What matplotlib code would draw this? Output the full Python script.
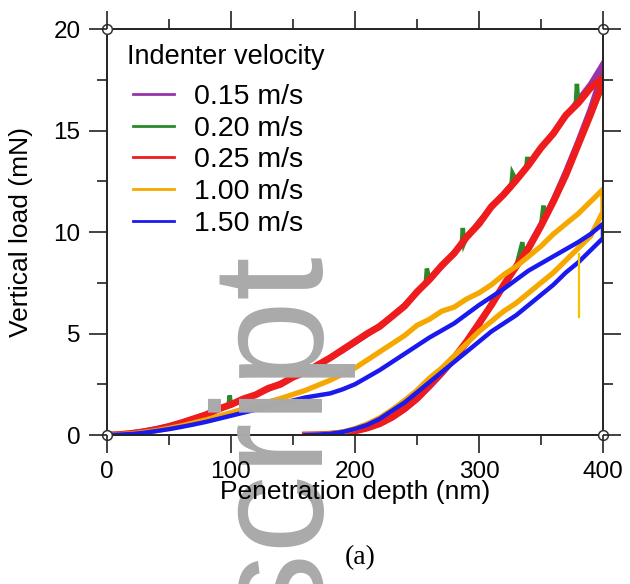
import matplotlib
matplotlib.use('Agg')
import matplotlib.pyplot as plt
from matplotlib.lines import Line2D
from matplotlib.ticker import MultipleLocator

plt.rcParams['font.family'] = ['Liberation Sans', 'DejaVu Sans']

# --- data ---
velocities = ['0.15 m/s', '0.20 m/s', '0.25 m/s', '1.00 m/s', '1.50 m/s']
colors = ['#9933aa', '#2a8a2a', '#ee1c1c', '#f5a800', '#1a1aee']

# loading branch, depth 0..400 nm every 10 nm
depth_load = list(range(0, 401, 10))
load_015 = [0, 0.03, 0.1, 0.2, 0.32, 0.45, 0.62, 0.8, 1.02, 1.27, 1.5, 1.75, 2.0,
            2.25, 2.55, 2.85, 3.1, 3.45, 3.8, 4.15, 4.55, 4.95, 5.4, 5.85, 6.4,
            7.0, 7.7, 8.3, 9.0, 9.7, 10.5, 11.2, 11.9, 12.6, 13.3, 14.1, 14.9,
            15.7, 16.5, 17.3, 18.3]
load_025 = [0, 0.02, 0.08, 0.16, 0.27, 0.42, 0.6, 0.8, 1.0, 1.28, 1.5, 1.78,
            1.98, 2.3, 2.5, 2.85, 3.1, 3.45, 3.8, 4.2, 4.6, 5.0, 5.35, 5.85,
            6.35, 7.05, 7.65, 8.35, 8.95, 9.75, 10.4, 11.25, 11.85, 12.55, 13.3,
            14.15, 14.85, 15.75, 16.35, 17.1, 17.6]
load_100 = [0, 0.02, 0.06, 0.13, 0.22, 0.33, 0.45, 0.6, 0.75, 0.93, 1.1, 1.28,
            1.45, 1.63, 1.8, 2.0, 2.2, 2.45, 2.7, 3.0, 3.3, 3.7, 4.1, 4.5, 4.9,
            5.4, 5.7, 6.1, 6.3, 6.7, 7.0, 7.4, 7.9, 8.3, 8.8, 9.3, 9.9, 10.4,
            10.9, 11.5, 12.1]
load_150 = [0, 0.02, 0.05, 0.11, 0.2, 0.29, 0.4, 0.52, 0.65, 0.8, 0.95, 1.1,
            1.25, 1.4, 1.55, 1.7, 1.85, 1.95, 2.05, 2.25, 2.5, 2.85, 3.2, 3.6,
            4.0, 4.4, 4.8, 5.15, 5.5, 5.95, 6.4, 6.8, 7.2, 7.65, 8.1, 8.45, 8.8,
            9.15, 9.5, 9.9, 10.4]

# 0.20 m/s loading trace has short spikes poking out of the red band
depth_load_020 = [0, 10, 20, 30, 40, 50, 60, 70, 80, 90,
                  98, 99, 100, 110, 120, 130, 140, 150, 160, 170,
                  180, 190, 200, 210, 220, 230, 240, 250, 257, 258,
                  260, 270, 280, 286, 287, 288, 290, 300, 310, 320,
                  326, 327, 330, 338, 339, 340, 350, 360, 370, 378,
                  379, 380, 390, 400]
load_020 = [0, 0.02, 0.08, 0.16, 0.27, 0.42, 0.6, 0.8, 1.0, 1.28,
            1.45, 1.95, 1.5, 1.78, 1.98, 2.3, 2.5, 2.85, 3.1, 3.45,
            3.8, 4.2, 4.6, 5.0, 5.35, 5.85, 6.35, 7.05, 7.45, 8.2,
            7.65, 8.35, 8.95, 9.35, 10.2, 9.45, 9.75, 10.4, 11.25, 11.85,
            12.2, 12.9, 12.55, 13.1, 13.7, 13.3, 14.15, 14.85, 15.75, 16.2,
            17.3, 16.35, 17.1, 17.7]

# unloading branch, depth 400 back to 160 nm
depth_unload = list(range(400, 159, -10))
unload_015 = [18.0, 16.1, 14.5, 13.0, 11.6, 10.4, 9.3, 8.3, 7.3, 6.4, 5.4, 4.5,
              3.7, 3.0, 2.35, 1.75, 1.25, 0.85, 0.55, 0.33, 0.18, 0.09, 0.03,
              0.01, 0.0]
unload_025 = [17.4, 15.8, 14.3, 12.8, 11.5, 10.3, 9.2, 8.3, 7.4, 6.4, 5.5, 4.6,
              3.8, 3.1, 2.45, 1.8, 1.3, 0.88, 0.56, 0.35, 0.2, 0.1, 0.04, 0.01,
              0.0]
unload_100 = [11.0, 9.8, 9.2, 8.6, 8.0, 7.5, 7.0, 6.5, 6.1, 5.6, 5.1, 4.5, 3.9,
              3.3, 2.8, 2.2, 1.7, 1.25, 0.85, 0.55, 0.32, 0.15, 0.06, 0.01, 0.0]
unload_150 = [9.7, 9.1, 8.5, 8.0, 7.4, 6.9, 6.4, 5.9, 5.5, 5.1, 4.6, 4.1, 3.6,
              3.1, 2.6, 2.1, 1.6, 1.2, 0.8, 0.5, 0.3, 0.15, 0.06, 0.02, 0.0]

depth_unload_020 = [400, 390, 380, 370, 360, 353, 352, 350, 340, 336,
                    335, 330, 320, 310, 300, 290, 280, 270, 260, 250,
                    240, 230, 220, 210, 200, 190, 180, 170, 160]
unload_020 = [17.2, 15.7, 14.2, 12.9, 11.6, 10.7, 11.3, 10.3, 9.2, 8.8,
              9.5, 8.3, 7.4, 6.5, 5.5, 4.6, 3.8, 3.05, 2.4, 1.8,
              1.3, 0.88, 0.56, 0.35, 0.2, 0.1, 0.04, 0.01, 0.0]

# thin glitch in the 1.00 m/s unloading trace near 381 nm
spike_depth = [381, 381]
spike_load = [8.9, 5.8]

traces = [
    (depth_load, load_015, depth_unload, unload_015),
    (depth_load_020, load_020, depth_unload_020, unload_020),
    (depth_load, load_025, depth_unload, unload_025),
    (depth_load, load_100, depth_unload, unload_100),
    (depth_load, load_150, depth_unload, unload_150),
]
widths = [3.8, 3.2, 5.0, 3.8, 3.2]

fig = plt.figure(figsize=(6.3, 5.84), dpi=100)
ax = fig.add_axes([0.1698, 0.2551, 0.7873, 0.6952])

for i, (dl, ld, du, ud) in enumerate(traces):
    ax.plot(dl + du, ld + ud, color=colors[i], linewidth=widths[i],
            solid_joinstyle='miter')
ax.plot(spike_depth, spike_load, color='#f2c400', linewidth=1.6)

ax.set_xlim(0, 400)
ax.set_ylim(0, 20)
ax.xaxis.set_major_locator(MultipleLocator(100))
ax.xaxis.set_minor_locator(MultipleLocator(50))
ax.yaxis.set_major_locator(MultipleLocator(5))
ax.yaxis.set_minor_locator(MultipleLocator(2.5))
ax.tick_params(which='both', direction='out', top=True, right=True,
               width=1.2, color='#222222', labelsize=17.5, pad=6)
ax.tick_params(which='major', length=13)
ax.tick_params(which='minor', length=7)
for sp in ax.spines.values():
    sp.set_color('#222222')
    sp.set_linewidth(1.4)

# open circles on the four corners
x0, x1 = ax.get_xlim()
y0, y1 = ax.get_ylim()
ax.plot([x0, x0, x1, x1], [y0, y1, y0, y1], 'o', mfc='white', mec='#333333',
        ms=7, mew=1.1, clip_on=False, zorder=6)

ax.set_xlabel('Penetration depth (nm)', fontsize=19)
ax.set_ylabel('Vertical load (mN)', fontsize=19)
ax.xaxis.set_label_coords(0.5, -0.11)
ax.yaxis.set_label_coords(-0.15, 0.5)
ax.xaxis.set_zorder(11)
ax.yaxis.set_zorder(11)

ax.text(0.04, 0.93, 'Indenter velocity', transform=ax.transAxes,
        ha='left', va='center', fontsize=19.5, zorder=12)
handles = [Line2D([], [], color=c, linewidth=2) for c in colors]
ax.legend(handles, velocities, loc='upper left', bbox_to_anchor=(0.052, 0.865),
          frameon=False, fontsize=20.5, handlelength=1.45, handletextpad=0.7,
          labelspacing=0.2, borderpad=0, borderaxespad=0)

# watermark
ax.text(310 / 630, 1 - 243 / 584, 'Manuscript', transform=fig.transFigure,
        rotation=90, rotation_mode='anchor', ha='right', va='baseline',
        fontsize=113, color='#aaaaaa', family='Liberation Sans',
        zorder=10, clip_on=False)

fig.text(360 / 630, 1 - 558 / 584, '(a)', ha='center', va='center',
         fontsize=20, family='Liberation Serif')

fig.savefig('out.png', dpi=100)
